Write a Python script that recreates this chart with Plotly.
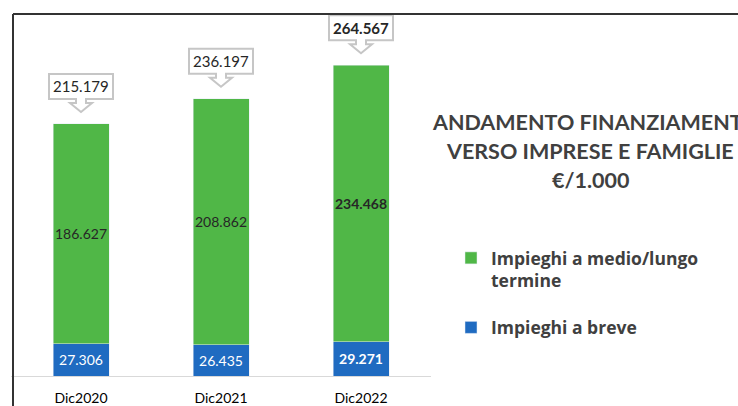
import plotly.graph_objects as go

categories = ["Dic2020", "Dic2021", "Dic2022"]
breve = [27306, 26435, 29271]
medio_lungo = [186627, 208862, 234468]
totali = [215179, 236197, 264567]
legend_names = ["Impieghi a medio/lungo<br>termine", "Impieghi a breve"]
title_lines = ["ANDAMENTO FINANZIAMENTI", "VERSO IMPRESE E FAMIGLIE", "€/1.000"]

GREEN = "#50b747"
BLUE = "#1f6bc1"
FONT = "Lato"
TEXT_DARK = "#262626"
TITLE_COL = "#404040"

W, H = 738, 406
ML, MR, MT, MB = 11, 307, 14, 30
PW = W - ML - MR
PH = H - MT - MB


def px_x(p):
    return (p - ML) / PW


def px_y(p):
    return (H - MB - p) / PH


x = list(range(len(categories)))
n = len(categories)
templ = ["%{y:,.0f}"] * (n - 1) + ["<b>%{y:,.0f}</b>"]

fig = go.Figure()
fig.add_trace(go.Bar(
    x=x, y=breve, name=f"<b>{legend_names[1]}</b>", marker_color=BLUE, width=0.4,
    texttemplate=templ, textposition="inside", insidetextanchor="middle",
    textangle=0, textfont=dict(family=FONT, size=14, color="white"),
    legendgroup="b", legendrank=2,
))
fig.add_trace(go.Bar(
    x=x, y=medio_lungo, name=f"<b>{legend_names[0]}</b>", marker_color=GREEN, width=0.4,
    texttemplate=templ, textposition="inside", insidetextanchor="middle",
    textangle=0, textfont=dict(family=FONT, size=14, color=TEXT_DARK),
    legendgroup="a", legendrank=1,
))

shapes = []
annotations = []
callout = "M-32,50 H32 V25 H5 V21 H11 L0,12 L-11,21 H-5 V25 H-32 Z"
for i in range(n):
    top = breve[i] + medio_lungo[i]
    shapes.append(dict(
        type="path", xref="x", yref="y", xsizemode="pixel", ysizemode="pixel",
        xanchor=x[i], yanchor=top, path=callout,
        fillcolor="white", line=dict(color="#c6c6c6", width=2), layer="above",
    ))
    txt = f"{totali[i]:,}".replace(",", ".")
    if i == n - 1:
        txt = f"<b>{txt}</b>"
    annotations.append(dict(
        x=x[i], y=top, xref="x", yref="y", yshift=37.5, showarrow=False,
        text=txt, font=dict(family=FONT, size=15, color=TEXT_DARK),
    ))

# chart border (top and left edges visible)
shapes.append(dict(type="line", xref="paper", yref="paper",
                   x0=px_x(13), x1=px_x(745), y0=px_y(14), y1=px_y(14),
                   line=dict(color="#333333", width=2), layer="above"))
shapes.append(dict(type="line", xref="paper", yref="paper",
                   x0=px_x(13), x1=px_x(13), y0=px_y(14), y1=px_y(412),
                   line=dict(color="#333333", width=2), layer="above"))

for line, yc in zip(title_lines, [122, 151, 180]):
    annotations.append(dict(
        x=px_x(590), y=px_y(yc), xref="paper", yref="paper", showarrow=False,
        xanchor="center", yanchor="middle", text=f"<b>{line}</b>",
        font=dict(family=FONT, size=21.5, color=TITLE_COL),
    ))

fig.update_layout(
    width=W, height=H,
    margin=dict(l=ML, r=MR, t=MT, b=MB, pad=0, autoexpand=False),
    barmode="stack",
    separators=",.",
    plot_bgcolor="white", paper_bgcolor="white",
    font=dict(family=FONT, size=14, color="black"),
    uniformtext=dict(minsize=14, mode="show"),
    showlegend=True,
    legend=dict(
        x=px_x(451), y=px_y(240), xanchor="left", yanchor="top",
        traceorder="grouped", tracegroupgap=21, valign="top",
        font=dict(family="Open Sans", size=17.5, color=TITLE_COL),
        bgcolor="rgba(0,0,0,0)",
    ),
    xaxis=dict(
        range=[-0.5, n - 0.5], tickvals=x, ticktext=categories,
        showline=True, linecolor="#d9d9d9", linewidth=1, ticks="",
        showgrid=False, zeroline=False, ticklabelstandoff=9, automargin=False,
        tickfont=dict(family=FONT, size=14, color="black"),
    ),
    yaxis=dict(range=[0, 307300], visible=False, showgrid=False,
               zeroline=False, automargin=False),
    shapes=shapes,
    annotations=annotations,
)

fig.write_html("out.html", config={"displayModeBar": False},
               post_script="document.body.style.margin='0';")
